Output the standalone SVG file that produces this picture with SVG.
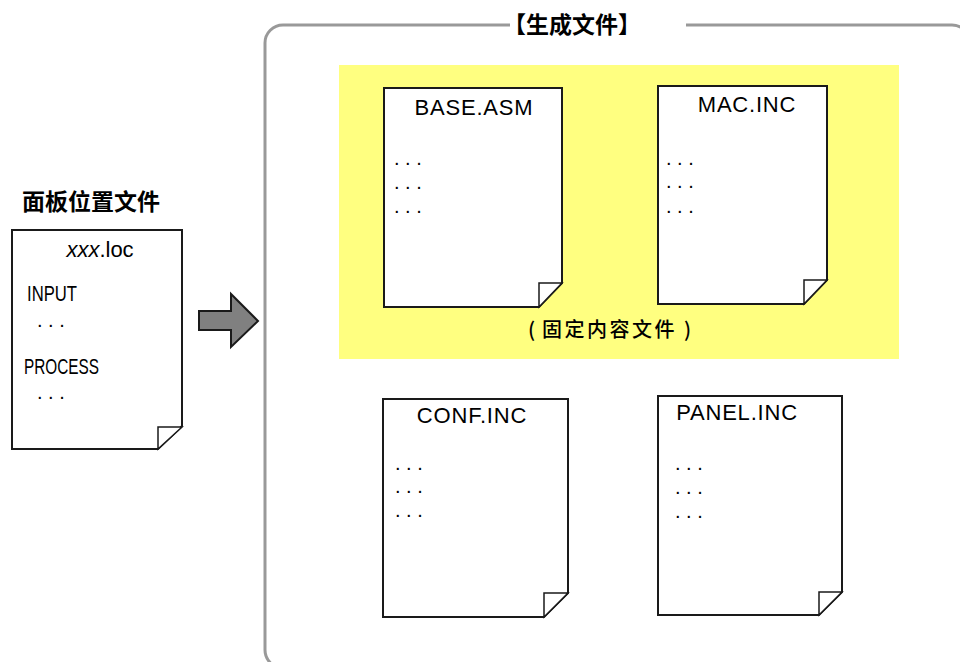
<svg xmlns="http://www.w3.org/2000/svg" width="960" height="662" viewBox="0 0 960 662">
<style>
.doc{fill:#fff;stroke:#1a1a1a;stroke-width:2}
.fold{fill:#fff;stroke:#1a1a1a;stroke-width:1.5}
.lbl{font-family:"Liberation Sans",Arial,sans-serif;font-size:22px;fill:#000;letter-spacing:0.8px}
.dots{font-family:"Liberation Sans",Arial,sans-serif;font-size:20px;fill:#000}
.cjkb{font-family:"Noto Sans CJK SC","Liberation Sans",sans-serif;font-weight:bold;fill:#000}
.cjk{font-family:"Noto Sans CJK SC","Liberation Sans",sans-serif;fill:#000}
.narrow{font-family:"Liberation Sans",Arial,sans-serif;font-size:22px;fill:#000}
</style>
<rect width="960" height="662" fill="#fff"/>
<g id="frame">
<rect x="265" y="25" width="705" height="643" rx="18" ry="18" fill="none" stroke="#999" stroke-width="3"/>
<rect x="510" y="12" width="176" height="24" fill="#fff"/>
<text class="cjkb" x="572" y="33" font-size="23" text-anchor="middle">【生成文件】</text>
</g>
<g id="fixed-area">
<rect x="339" y="65" width="560" height="294" fill="#ffff80"/>
<text class="cjk" y="337" font-size="20" font-weight="500"><tspan x="528">(</tspan><tspan x="542" letter-spacing="2.5">固定内容文件</tspan><tspan x="684">)</tspan></text>
</g>
<g id="left-label">
<text class="cjkb" x="22" y="210" font-size="23">面板位置文件</text>
</g>
<g id="doc-loc">
<path class="doc" d="M12,230 H182 V426 L158,449 H12 Z"/>
<path class="fold" d="M158,449 V427 H182 Z"/>
<text x="100" y="257" text-anchor="middle" class="narrow"><tspan font-style="italic">xxx</tspan>.loc</text>
<text x="27" y="301" class="narrow" textLength="50" lengthAdjust="spacingAndGlyphs">INPUT</text>
<text x="37" y="327" class="dots">. . .</text>
<text x="24" y="374" class="narrow" textLength="75" lengthAdjust="spacingAndGlyphs">PROCESS</text>
<text x="37" y="399" class="dots">. . .</text>
</g>
<g id="arrow">
<path d="M199,311 H231 V294 L258,321 L231,347 V330 H199 Z" fill="#808080" stroke="#1a1a1a" stroke-width="2" stroke-linejoin="miter"/>
</g>
<g id="doc-base">
<path class="doc" d="M384,88 H562 V283 L539,307 H384 Z"/>
<path class="fold" d="M539,307 V283 H562 Z"/>
<text x="474" y="115" class="lbl" text-anchor="middle">BASE.ASM</text>
<text x="394" y="165" class="dots">. . .</text>
<text x="394" y="189" class="dots">. . .</text>
<text x="394" y="213" class="dots">. . .</text>
</g>
<g id="doc-mac">
<path class="doc" d="M658,86 H827 V280 L804,304 H658 Z"/>
<path class="fold" d="M804,304 V280 H827 Z"/>
<text x="747" y="112" class="lbl" text-anchor="middle">MAC.INC</text>
<text x="666" y="165" class="dots">. . .</text>
<text x="666" y="188" class="dots">. . .</text>
<text x="666" y="213" class="dots">. . .</text>
</g>
<g id="doc-conf">
<path class="doc" d="M383,399 H568 V593 L544,617 H383 Z"/>
<path class="fold" d="M544,617 V593 H568 Z"/>
<text x="472" y="423" class="lbl" text-anchor="middle">CONF.INC</text>
<text x="395" y="470" class="dots">. . .</text>
<text x="395" y="493" class="dots">. . .</text>
<text x="395" y="517" class="dots">. . .</text>
</g>
<g id="doc-panel">
<path class="doc" d="M658,396 H842 V592 L819,615 H658 Z"/>
<path class="fold" d="M819,615 V592 H842 Z"/>
<text x="737" y="420" class="lbl" text-anchor="middle">PANEL.INC</text>
<text x="675" y="470" class="dots">. . .</text>
<text x="675" y="494" class="dots">. . .</text>
<text x="675" y="518" class="dots">. . .</text>
</g>
<g id="connectors"></g>
</svg>
